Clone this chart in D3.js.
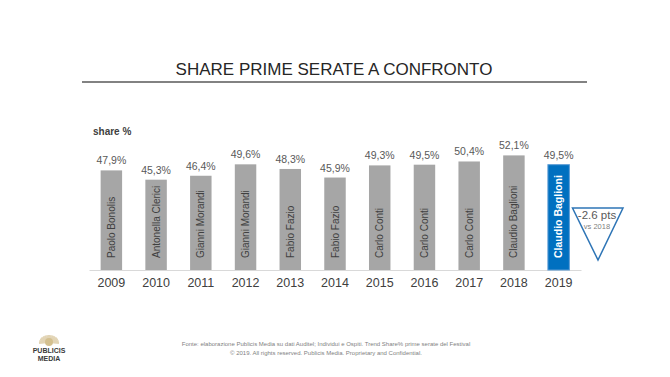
<!DOCTYPE html>
<html>
<head>
<meta charset="utf-8">
<script src="https://cdn.jsdelivr.net/npm/d3@7"></script>
<style>
  body { margin: 0; background: #fff; }
  svg { display: block; font-family: "Liberation Sans", Arial, sans-serif; }
</style>
</head>
<body>
<div id="chart"></div>
<script>
const years = ["2009","2010","2011","2012","2013","2014","2015","2016","2017","2018","2019"];
const shares = [47.9, 45.3, 46.4, 49.6, 48.3, 45.9, 49.3, 49.5, 50.4, 52.1, 49.5];
const hosts = ["Paolo Bonolis","Antonella Clerici","Gianni Morandi","Gianni Morandi","Fabio Fazio",
  "Fabio Fazio","Carlo Conti","Carlo Conti","Carlo Conti","Claudio Baglioni","Claudio Baglioni"];
const deltaLabel = "-2.6 pts";
const deltaSub = "vs 2018";

const width = 670, height = 377;
const fmt = v => d3.format(".1f")(v).replace(".", ",") + "%";

const svg = d3.select("#chart").append("svg")
  .attr("width", width)
  .attr("height", height);

// title + rule
svg.append("text")
  .attr("x", 334).attr("y", 75)
  .attr("text-anchor", "middle")
  .style("font-size", "17px")
  .style("fill", "#262626")
  .text("SHARE PRIME SERATE A CONFRONTO");
svg.append("line")
  .attr("x1", 82).attr("x2", 587)
  .attr("y1", 82).attr("y2", 82)
  .style("stroke", "#595959")
  .style("stroke-width", 1.5);

const x = d3.scaleBand()
  .domain(years)
  .range([89, 581])
  .paddingInner(0.52)
  .paddingOuter(0.26);
const y = d3.scaleLinear()
  .domain([20, 60])
  .range([270, 127.2]);

const data = years.map((yr, i) => ({year: yr, share: shares[i], host: hosts[i], last: i === years.length - 1}));

svg.append("text")
  .attr("x", 93).attr("y", 135)
  .style("font-size", "10px")
  .style("font-weight", "bold")
  .style("fill", "#404040")
  .text("share %");

// axis
const axis = svg.append("g")
  .attr("transform", `translate(0,${y(20)})`)
  .call(d3.axisBottom(x).tickSize(0).tickSizeOuter(0).tickPadding(8));
axis.select(".domain").style("stroke", "#d9d9d9");
axis.selectAll("text")
  .style("font-family", "\"Liberation Sans\", Arial, sans-serif")
  .style("font-size", "12.5px")
  .style("fill", "#404040");

const bars = svg.append("g");
bars.selectAll("rect")
  .data(data)
  .join("rect")
  .attr("x", d => x(d.year))
  .attr("y", d => y(d.share))
  .attr("width", x.bandwidth())
  .attr("height", d => y(20) - y(d.share))
  .style("fill", d => d.last ? "#0070c0" : "#a6a6a6")
  .style("stroke", d => d.last ? "#5b9bd5" : "none")
  .style("stroke-width", 1);

svg.append("g").selectAll("text")
  .data(data)
  .join("text")
  .attr("x", d => x(d.year) + x.bandwidth() / 2)
  .attr("y", d => y(d.share) - 6)
  .attr("text-anchor", "middle")
  .style("font-size", "10.5px")
  .style("fill", "#595959")
  .text(d => fmt(d.share));

svg.append("g").selectAll("text")
  .data(data)
  .join("text")
  .attr("transform", d => `translate(${x(d.year) + x.bandwidth() / 2 + 3.5},258) rotate(-90)`)
  .attr("text-anchor", "start")
  .style("font-size", d => d.last ? "10.5px" : "10px")
  .style("font-weight", d => d.last ? "bold" : "normal")
  .style("fill", d => d.last ? "#ffffff" : "#404040")
  .text(d => d.host);

// delta triangle
const tri = svg.append("g");
tri.append("path")
  .attr("d", "M572.5,208 L623,208 L598,260 Z")
  .style("fill", "#fff")
  .style("stroke", "#2e75b6")
  .style("stroke-width", 1.5);
tri.append("text")
  .attr("x", 597).attr("y", 218.5)
  .attr("text-anchor", "middle")
  .style("font-size", "11.5px")
  .style("fill", "#595959")
  .text(deltaLabel);
tri.append("text")
  .attr("x", 597).attr("y", 228.5)
  .attr("text-anchor", "middle")
  .style("font-size", "7.5px")
  .style("fill", "#7f7f7f")
  .text(deltaSub);

// footer
const foot = svg.append("g")
  .style("font-size", "6px")
  .style("fill", "#7f7f7f")
  .attr("text-anchor", "middle");
foot.append("text").attr("x", 326).attr("y", 346)
  .text("Fonte: elaborazione Publicis Media su dati Auditel; Individui e Ospiti. Trend Share% prime serate del Festival");
foot.append("text").attr("x", 326).attr("y", 355)
  .text("© 2019. All rights reserved. Publicis Media. Proprietary and Confidential.");

// logo
const logo = svg.append("g").attr("transform", "translate(49,342)");
const rays = d3.range(15).map(i => -Math.PI + (i / 14) * Math.PI);
logo.selectAll("line")
  .data(rays)
  .join("line")
  .attr("x1", 0).attr("y1", 0)
  .attr("x2", a => Math.cos(a) * 10)
  .attr("y2", a => Math.sin(a) * 8 + 1)
  .style("stroke", "#e2d4b5")
  .style("stroke-width", 2);
logo.append("circle").attr("r", 4).attr("cy", 0).style("fill", "#d4c08f");
logo.append("text").attr("y", 11).attr("text-anchor", "middle")
  .style("font-size", "7px").style("font-weight", "bold").style("fill", "#3a3a3a")
  .text("PUBLICIS");
logo.append("text").attr("y", 18.5).attr("text-anchor", "middle")
  .style("font-size", "7px").style("font-weight", "bold").style("fill", "#3a3a3a")
  .text("MEDIA");
</script>
</body>
</html>
